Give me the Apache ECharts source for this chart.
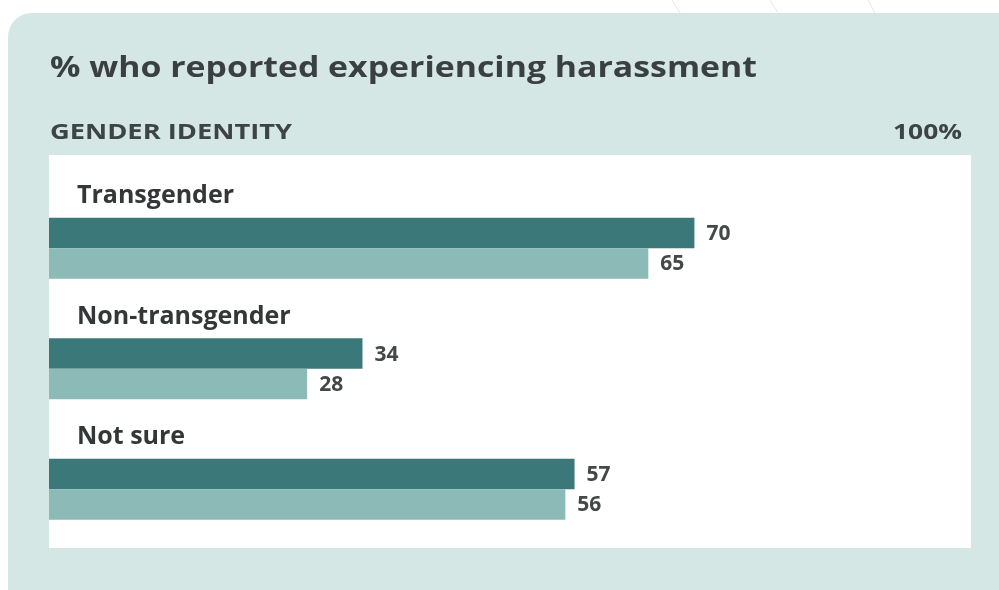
<!DOCTYPE html>
<html><head><meta charset="utf-8">
<script src="https://cdn.jsdelivr.net/npm/echarts@6/dist/echarts.min.js"></script>
<style>html,body{margin:0;padding:0;background:#fff}#c{width:999px;height:590px}</style>
</head><body><div id="c"></div>
<script>
const categories = ['Transgender', 'Non-transgender', 'Not sure'];
const seriesA = [70, 34, 57];
const seriesB = [65, 28, 56];
const titleText = '% who reported experiencing harassment';
const groupLabel = 'GENDER IDENTITY';
const axisMaxLabel = '100%';

const F = "'Open Sans', sans-serif";
const ctx = document.createElement('canvas').getContext('2d');
function fitScale(text, font, target) { ctx.font = font; return target / ctx.measureText(text).width; }
const titleFont = "bold 29px " + F;
const headFont = "bold 21px " + F;

const chart = echarts.init(document.getElementById('c'));
chart.setOption({
  backgroundColor: '#ffffff',
  animation: false,
  graphic: [
    {type:'line', shape:{x1:672,y1:0,x2:680,y2:13}, style:{stroke:'#e4e8e8',lineWidth:1}, z:-10},
    {type:'line', shape:{x1:770,y1:0,x2:778,y2:13}, style:{stroke:'#e4e8e8',lineWidth:1}, z:-10},
    {type:'line', shape:{x1:868,y1:0,x2:875,y2:13}, style:{stroke:'#e4e8e8',lineWidth:1}, z:-10},
    {type:'rect', shape:{x:8,y:13,width:1020,height:620,r:24}, style:{fill:'#d5e7e4'}, z:-9},
    {type:'rect', shape:{x:49,y:155,width:922,height:393}, style:{fill:'#ffffff'}, z:-8},
    {type:'text', x:50, y:69, scaleX:fitScale(titleText, titleFont, 707),
      style:{text:titleText, font:titleFont, fill:'#3a3f40', verticalAlign:'middle'}},
    {type:'text', x:50, y:133, scaleX:fitScale(groupLabel, headFont, 242),
      style:{text:groupLabel, font:headFont, fill:'#3d4445', verticalAlign:'middle'}},
    {type:'text', x:962, y:133, scaleX:fitScale(axisMaxLabel, headFont, 69),
      style:{text:axisMaxLabel, font:headFont, fill:'#3d4445', align:'right', verticalAlign:'middle'}}
  ],
  grid: {left:49, right:28, top:188, bottom:40.5},
  xAxis: {type:'value', min:0, max:100, show:false},
  yAxis: {
    type:'category', data:categories, inverse:true, z:5,
    axisLine:{show:false}, axisTick:{show:false}, splitLine:{show:false},
    axisLabel:{inside:true, margin:28, align:'left', verticalAlign:'bottom',
      formatter: v => '{a|' + v + '}\n{s| }',
      rich:{
        a:{fontFamily:F, fontSize:25, fontWeight:'bold', color:'#333738', lineHeight:28},
        s:{fontSize:10, lineHeight:38}
      }}
  },
  series: [
    {type:'bar', data:seriesA, barWidth:30.5, barGap:'0%', itemStyle:{color:'#3a7879'},
      label:{show:true, position:'right', distance:12, offset:[0,1.5], fontFamily:F, fontSize:21, fontWeight:'bold', color:'#444849'}},
    {type:'bar', data:seriesB, barWidth:30.5, barGap:'0%', itemStyle:{color:'#8bbab7'},
      label:{show:true, position:'right', distance:12, offset:[0,1], fontFamily:F, fontSize:21, fontWeight:'bold', color:'#444849'}}
  ]
});
</script></body></html>
